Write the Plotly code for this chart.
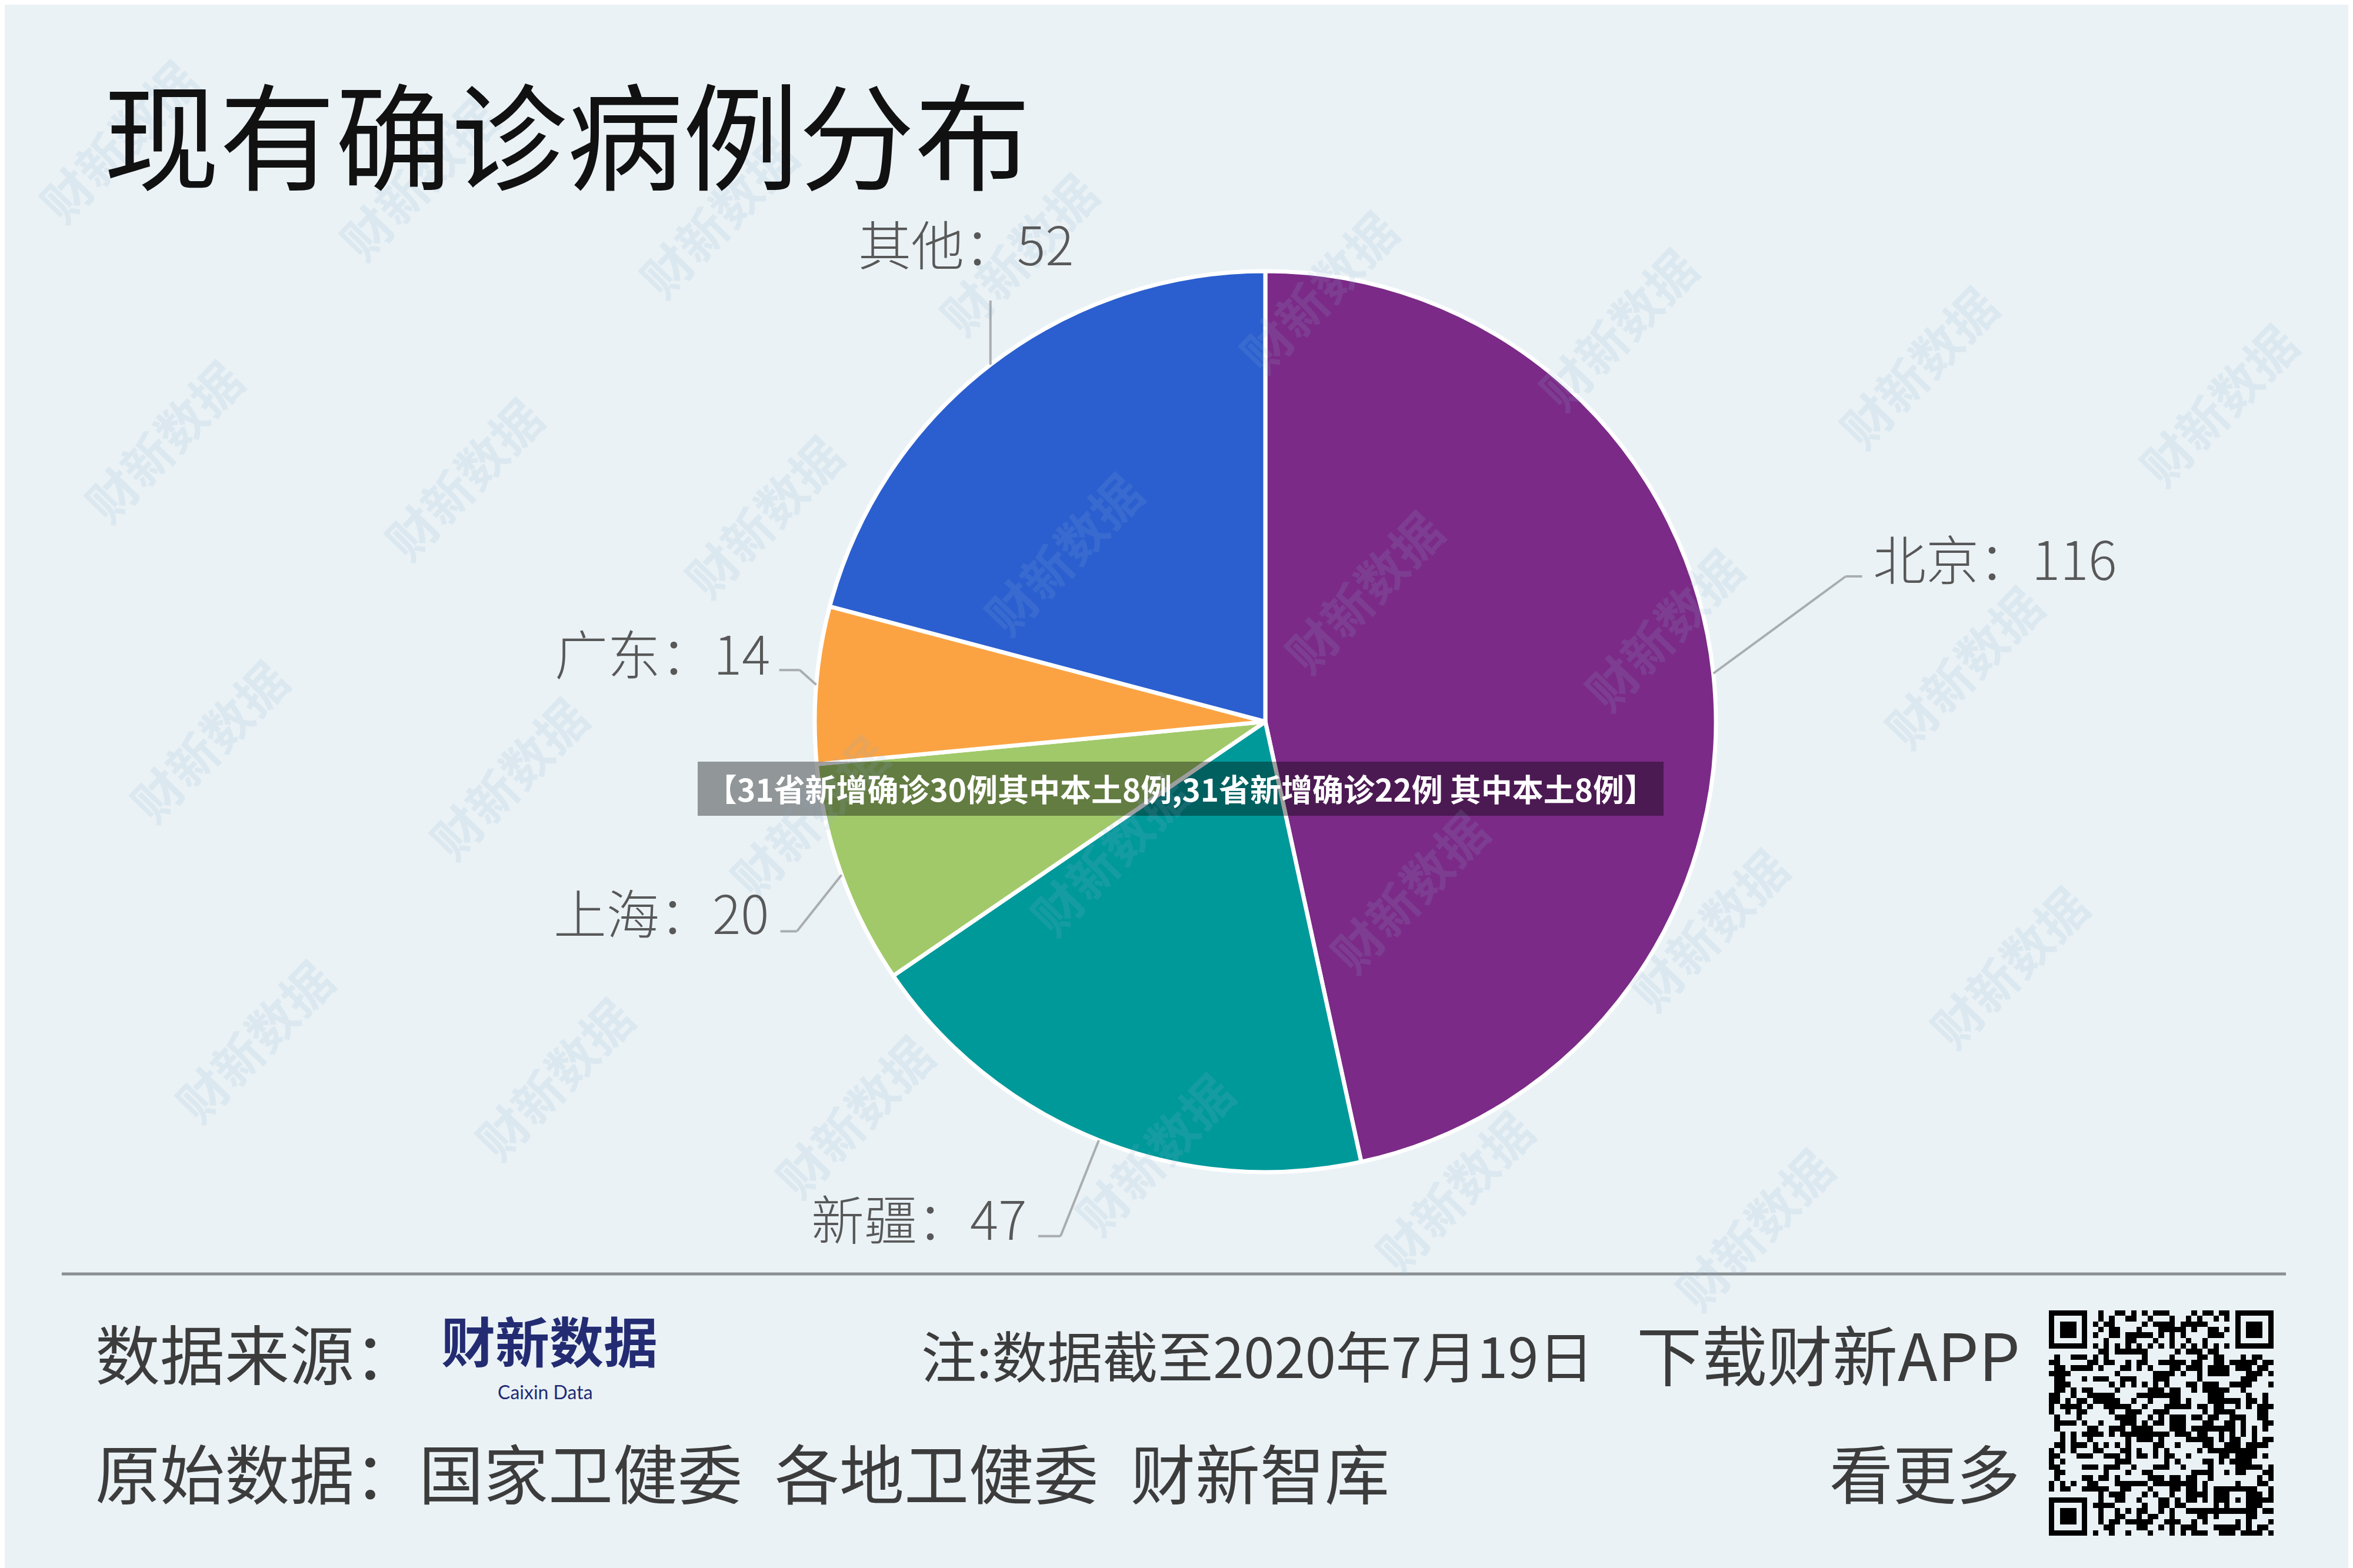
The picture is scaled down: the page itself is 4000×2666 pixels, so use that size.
import hashlib
import numpy as np
import plotly.graph_objects as go

W, H = 4000, 2666

# ---------------- data ----------------
regions = ["北京", "新疆", "上海", "广东", "其他"]
cases = [116, 47, 20, 14, 52]
colors = ["#7b2a87", "#00999a", "#a1c969", "#fba343", "#2b5fcf"]

title = "现有确诊病例分布"
banner = "【31省新增确诊30例其中本土8例,31省新增确诊22例 其中本土8例】"
source_label = "数据来源："
logo = "财新数据"
logo_sub = "Caixin Data"
note = "注:数据截至2020年7月19日"
app = "下载财新APP"
origin = "原始数据：国家卫健委\u2002各地卫健委\u2002财新智库"
more = "看更多"
watermark = "财新数据"

# ---------------- layout constants (pixels) ----------------
CX, CY, R = 2143, 1219, 766
FONT = "Noto Sans CJK SC"
BG = "#eaf2f6"


def px(x):
    return x / W


def py(y):
    return 1 - y / H


# label leader-line layout: elbow offset from slice edge, horizontal run, text offset
label_layout = {
    "北京": dict(elbow=(225, -165), horiz=28, text=(16, -33), anchor="left"),
    "新疆": dict(elbow=(-65, 163), horiz=-38, text=(-18, -33), anchor="right"),
    "上海": dict(elbow=(-76, 96), horiz=-28, text=(-18, -34), anchor="right"),
    "广东": dict(elbow=(-28, -25), horiz=-35, text=(-14, -31), anchor="right"),
    "其他": dict(elbow=(0, -109), horiz=0, text=(-42, -99), anchor="center"),
}

fig = go.Figure()

fig.add_trace(go.Pie(
    labels=regions, values=cases, sort=False, direction="clockwise", rotation=0,
    marker=dict(colors=colors, line=dict(color="white", width=7)),
    textinfo="none", hoverinfo="label+value", showlegend=False,
    domain=dict(x=[px(CX - R), px(CX + R)], y=[py(CY + R), py(CY - R)]),
))

# ---------------- QR code (decorative) ----------------
N = 41
qr = np.zeros((N, N), dtype=int)
seed = hashlib.sha256("caixin data app".encode()).digest()
bits = []
k = 0
while len(bits) < N * N:
    h = hashlib.sha256(seed + k.to_bytes(4, "big")).digest()
    for byte in h:
        for b in range(8):
            bits.append((byte >> b) & 1)
    k += 1
qr[:, :] = np.array(bits[:N * N]).reshape(N, N)


def finder(r0, c0):
    qr[max(r0 - 1, 0):min(r0 + 8, N), max(c0 - 1, 0):min(c0 + 8, N)] = 0
    qr[r0:r0 + 7, c0:c0 + 7] = 1
    qr[r0 + 1:r0 + 6, c0 + 1:c0 + 6] = 0
    qr[r0 + 2:r0 + 5, c0 + 2:c0 + 5] = 1


finder(0, 0)
finder(0, N - 7)
finder(N - 7, 0)
qr[32:37, 32:37] = 1
qr[33:36, 33:36] = 0
qr[34, 34] = 1
for i in range(8, N - 8):
    qr[6, i] = 1 - i % 2
    qr[i, 6] = 1 - i % 2

QX0, QX1, QY0, QY1 = 3475, 3857, 2220, 2603
fig.add_trace(go.Heatmap(
    z=qr, colorscale=[[0, "rgba(0,0,0,0)"], [1, "#000000"]], zmin=0, zmax=1,
    showscale=False, hoverinfo="skip", xaxis="x", yaxis="y",
))

# ---------------- leader lines & labels ----------------
shapes = []
annotations = []

vals = np.array(cases, dtype=float)
total = vals.sum()
mid = (np.cumsum(vals) - vals / 2) / total * 2 * np.pi

# watermarks first (drawn under other texts)
base = np.array([268, 740])
va = np.array([510, 64])
vb = np.array([77, 510])
for i in range(-2, 9):
    for j in range(-2, 5):
        p = base + i * va + j * vb
        if 180 < p[0] < W - 180 and 180 < p[1] < 2120:
            annotations.append(dict(
                x=px(p[0]), y=py(p[1]), xref="paper", yref="paper", text=f"<b>{watermark}</b>",
                showarrow=False, textangle=-46, xanchor="center", yanchor="middle",
                font=dict(family=FONT, size=84, color="rgba(140,175,210,0.15)"),
            ))

for name, v, th in zip(regions, cases, mid):
    lay = label_layout[name]
    ex, ey = CX + R * np.sin(th), CY - R * np.cos(th)
    bx, by = ex + lay["elbow"][0], ey + lay["elbow"][1]
    hx, hy = bx + lay["horiz"], by
    for (x0, y0, x1, y1) in [(ex, ey, bx, by), (bx, by, hx, hy)]:
        if abs(x1 - x0) + abs(y1 - y0) > 0.5:
            shapes.append(dict(type="line", xref="paper", yref="paper",
                               x0=px(x0), y0=py(y0), x1=px(x1), y1=py(y1),
                               line=dict(color="#a9adb0", width=4)))
    tx, ty = hx + lay["text"][0], hy + lay["text"][1]
    annotations.append(dict(
        x=px(tx), y=py(ty), xref="paper", yref="paper", text=f"{name}：{v}",
        showarrow=False, xanchor=lay["anchor"], yanchor="middle",
        font=dict(family=FONT, size=90, color="#585858", weight=300),
    ))

# banner
shapes.append(dict(type="rect", xref="paper", yref="paper",
                   x0=px(1178), x1=px(2820), y0=py(1379), y1=py(1287),
                   fillcolor="rgba(0,0,0,0.38)", line=dict(width=0)))
annotations.append(dict(
    x=px(1999), y=py(1332), xref="paper", yref="paper", text=f"<b>{banner}</b>",
    showarrow=False, xanchor="center", yanchor="middle",
    font=dict(family=FONT, size=53, color="white"),
))

# separator
shapes.append(dict(type="line", xref="paper", yref="paper",
                   x0=px(97), x1=px(3878), y0=py(2158), y1=py(2158),
                   line=dict(color="#8a8f92", width=5)))

# title
annotations.append(dict(
    x=px(166), y=py(214), xref="paper", yref="paper", text=title,
    showarrow=False, xanchor="left", yanchor="middle",
    font=dict(family=FONT, size=197, color="#111111"),
))

# footer
foot_col = "#3c3c3c"
annotations += [
    dict(x=px(152), y=py(2290), text=source_label, xanchor="left",
         font=dict(family=FONT, size=110, color=foot_col)),
    dict(x=px(926), y=py(2268), text=f"<b>{logo}</b>", xanchor="center",
         font=dict(family=FONT, size=92, color="#232c72", weight=900)),
    dict(x=px(919), y=py(2358), text=logo_sub, xanchor="center",
         font=dict(family="Lato", size=32, color="#232c72")),
    dict(x=px(1556), y=py(2294), text=note, xanchor="left",
         font=dict(family=FONT, size=94, color=foot_col)),
    dict(x=px(3428), y=py(2291), text=app, xanchor="right",
         font=dict(family=FONT, size=111, color=foot_col)),
    dict(x=px(152), y=py(2493), text=origin, xanchor="left",
         font=dict(family=FONT, size=110, color=foot_col)),
    dict(x=px(3428), y=py(2493), text=more, xanchor="right",
         font=dict(family=FONT, size=108, color=foot_col)),
]
for a in annotations[-7:]:
    a.update(xref="paper", yref="paper", showarrow=False, yanchor="middle")

fig.update_layout(
    width=W, height=H, margin=dict(l=0, r=0, t=0, b=0),
    paper_bgcolor=BG, plot_bgcolor="rgba(0,0,0,0)",
    shapes=shapes, annotations=annotations,
    xaxis=dict(domain=[px(QX0), px(QX1)], visible=False, range=[-0.5, N - 0.5], fixedrange=True),
    yaxis=dict(domain=[py(QY1), py(QY0)], visible=False, range=[N - 0.5, -0.5], fixedrange=True),
)

fig.write_html("out.html")
